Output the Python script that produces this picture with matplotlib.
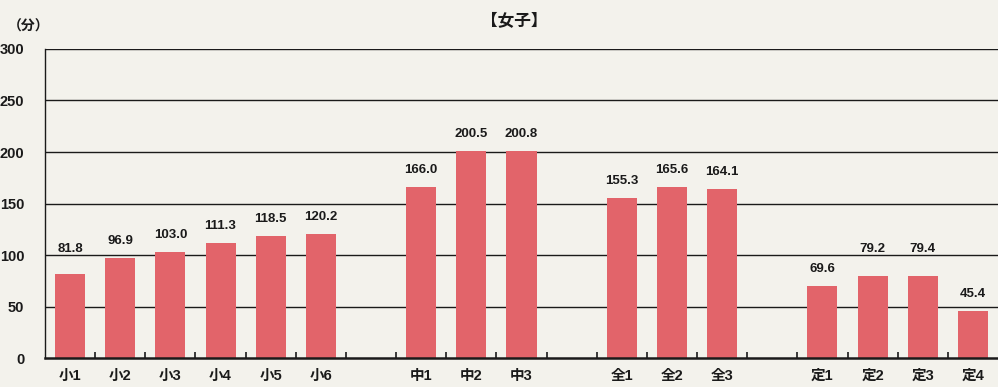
import matplotlib
matplotlib.use("Agg")
import matplotlib.pyplot as plt
import numpy as np

categories = ["小1", "小2", "小3", "小4", "小5", "小6", "",
              "中1", "中2", "中3", "",
              "全1", "全2", "全3", "",
              "定1", "定2", "定3", "定4"]
values = [81.8, 96.9, 103.0, 111.3, 118.5, 120.2, None,
          166.0, 200.5, 200.8, None,
          155.3, 165.6, 164.1, None,
          69.6, 79.2, 79.4, 45.4]
yticks = [0, 50, 100, 150, 200, 250, 300]

plt.rcParams["font.family"] = ["Liberation Sans", "Noto Sans CJK JP", "DejaVu Sans"]

paper = "#f3f2ec"
bar_color = "#e2646a"
ink = "#1a1a1a"

fig = plt.figure(figsize=(9.98, 3.87), dpi=100, facecolor=paper)
ax = fig.add_axes([0.0451, 0.0749, 0.9549, 0.7985], facecolor=paper)


def label_y(v):
    # place the value label above the bar, lifted clear of a nearby grid line
    c = v + 16.5
    for g in yticks[1:]:
        if g - 8 < c < g + 5:
            c = g + 5.5
    return c


x = np.arange(len(categories))
for xi, v in zip(x, values):
    if v is None:
        continue
    ax.bar(xi, v, width=0.6, color=bar_color, edgecolor="none", zorder=3)
    ax.text(xi, label_y(v), f"{v:.1f}", ha="center", va="center",
            fontsize=9.5, fontweight="bold", color=ink, zorder=4)

ax.set_xlim(-0.5, len(categories) - 0.5)
ax.set_ylim(0, 300)
ax.set_yticks(yticks)
ax.set_yticklabels([str(t) for t in yticks], fontsize=10.5, fontweight="bold", color=ink)
for t in yticks[1:]:
    ax.axhline(t, color=ink, lw=1.0, zorder=2)

# category labels under each slot, small inward ticks at slot boundaries
ax.set_xticks(x)
ax.set_xticklabels(categories, fontsize=10.5, fontweight="bold", color=ink)
ax.tick_params(axis="x", which="major", length=0, pad=8)
ax.set_xticks(np.arange(0.5, len(categories) - 0.5, 1.0), minor=True)
ax.tick_params(axis="x", which="minor", direction="in", length=4, width=1.2, color=ink)
ax.tick_params(axis="y", length=0, pad=15)

for s in ["top", "right"]:
    ax.spines[s].set_visible(False)
ax.spines["left"].set_color(ink)
ax.spines["left"].set_linewidth(1.0)
ax.spines["bottom"].set_color(ink)
ax.spines["bottom"].set_linewidth(1.8)
ax.spines["left"].set_zorder(5)
ax.spines["bottom"].set_zorder(5)

fig.text(0.515, 0.947, "【女子】", ha="center", va="center", fontsize=12,
         fontweight="bold", color=ink, family=["Noto Sans CJK JP", "DejaVu Sans"])
fig.text(0.008, 0.932, "（分）", ha="left", va="center", fontsize=10,
         fontweight="bold", color=ink, family=["Noto Sans CJK JP", "DejaVu Sans"])

fig.savefig("out.png", dpi=100, facecolor=paper)
